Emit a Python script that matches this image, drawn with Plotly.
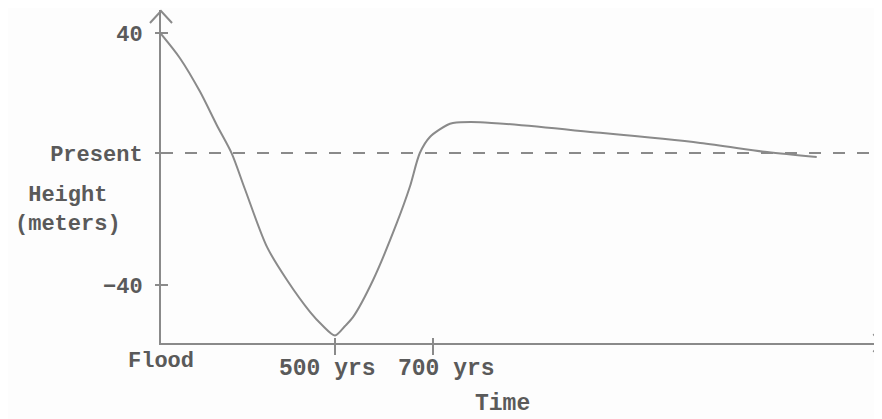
import plotly.graph_objects as go

# ---- data (schematic: time position as % of the drawn time axis, height in meters) ----
TIME_POS = [0, 2.64, 5.42, 7.75, 9.83, 11.68, 14.74, 17.52, 20.72, 22.4, 24.2, 25.6, 26.7,
            29.5, 32.8, 34.6, 36.0, 37.4, 39.8, 40.6, 44.4, 61.1, 75.0, 84.3, 91.2]
HEIGHT = [39.7, 32.0, 21.4, 10.8, 1.8, -9.6, -27.9, -38.4, -48.5, -52.7, -56.0, -53.0, -50.2,
          -38.4, -20.3, -8.9, 1.9, 7.0, 10.8, 11.4, 11.7, 8.3, 5.1, 2.2, 0.6]

PRESENT_LEVEL = 1.9
Y_TICK_VALS = [40, PRESENT_LEVEL, -40]
Y_TICK_TEXT = ["40", "Present", "\u221240"]

X_TICK_VALS = [0, 24.2, 37.8]
X_TICK_TEXT = ["Flood", "500 yrs", "700 yrs"]

X_RANGE = [0, 100.28]
Y_RANGE = [-58.4, 47.3]

INK = "#5a5a5a"
LINE = "#8a8a8a"
FONT = "Liberation Mono"

fig = go.Figure()

# dashed "present" level
fig.add_trace(go.Scatter(
    x=X_RANGE, y=[PRESENT_LEVEL, PRESENT_LEVEL], mode="lines",
    line=dict(color=LINE, width=2, dash="12px,12px"), hoverinfo="skip", showlegend=False))

# height curve
fig.add_trace(go.Scatter(
    x=TIME_POS, y=HEIGHT, mode="lines",
    line=dict(color=LINE, width=2, shape="spline", smoothing=0.8),
    showlegend=False))

axis_font = dict(family=FONT, size=22, color=INK, weight="bold")

fig.update_layout(
    width=874, height=411,
    margin=dict(l=153, r=0, t=2, b=76),
    paper_bgcolor="#fdfdfd", plot_bgcolor="#fdfdfd",
    xaxis=dict(range=X_RANGE, showgrid=False, zeroline=False, showline=True,
               linecolor=LINE, linewidth=2, tickvals=X_TICK_VALS[1:], ticktext=["", ""],
               ticks="outside", ticklen=10, tickwidth=2, tickcolor=LINE, showticklabels=False),
    xaxis2=dict(range=X_RANGE, overlaying="x", matches="x", showgrid=False, zeroline=False,
                tickvals=X_TICK_VALS[1:], ticks="inside", ticklen=5, tickwidth=2,
                tickcolor=LINE, showticklabels=False, side="bottom", anchor="y"),
    yaxis=dict(range=Y_RANGE, showgrid=False, zeroline=False, showline=True,
               linecolor=LINE, linewidth=2, tickvals=Y_TICK_VALS, ticktext=Y_TICK_TEXT,
               ticks="outside", ticklen=4, tickwidth=2, tickcolor=LINE,
               tickfont=axis_font, ticklabelstandoff=8),
    yaxis2=dict(range=Y_RANGE, overlaying="y", showgrid=False, zeroline=False,
                tickvals=Y_TICK_VALS, ticks="inside", ticklen=7, tickwidth=2,
                tickcolor=LINE, showticklabels=False, side="left", anchor="x"),
)
# invisible trace to activate the overlay axes
fig.add_trace(go.Scatter(x=[None], y=[None], xaxis="x2", yaxis="y2", showlegend=False))

# x tick labels (placed as in the drawing)
label_shift = {"Flood": (0, -18, 22), "500 yrs": (-7, -26, 23), "700 yrs": (14, -26, 23)}
for v, t in zip(X_TICK_VALS, X_TICK_TEXT):
    dx, dy, sz = label_shift[t]
    fig.add_annotation(x=v, y=0, xref="x", yref="paper", text=t, showarrow=False,
                       xanchor="center", yanchor="middle", xshift=dx, yshift=dy,
                       font=dict(family=FONT, size=sz, color=INK, weight="bold"))

# axis titles
fig.add_annotation(x=0.473, y=0, xref="paper", yref="paper", text="Time", showarrow=False,
                   xanchor="center", yanchor="middle", yshift=-61,
                   font=dict(family=FONT, size=23, color=INK, weight="bold"))
fig.add_annotation(x=-0.129, y=0.40, xref="paper", yref="paper", text="Height<br>(meters)",
                   showarrow=False, xanchor="center", yanchor="middle", align="center",
                   font=dict(family=FONT, size=22, color=INK, weight="bold"))

# axis arrowheads (open chevrons)
fig.add_shape(type="path", xref="paper", yref="paper",
              path="M -0.0153,0.961 L 0,0.997 L 0.0153,0.961",
              line=dict(color=LINE, width=2))
fig.add_shape(type="path", xref="paper", yref="paper",
              path="M 0.988,0.027 L 0.999,0.0 L 0.988,-0.027",
              line=dict(color=LINE, width=2))

fig.write_html("out.html")
